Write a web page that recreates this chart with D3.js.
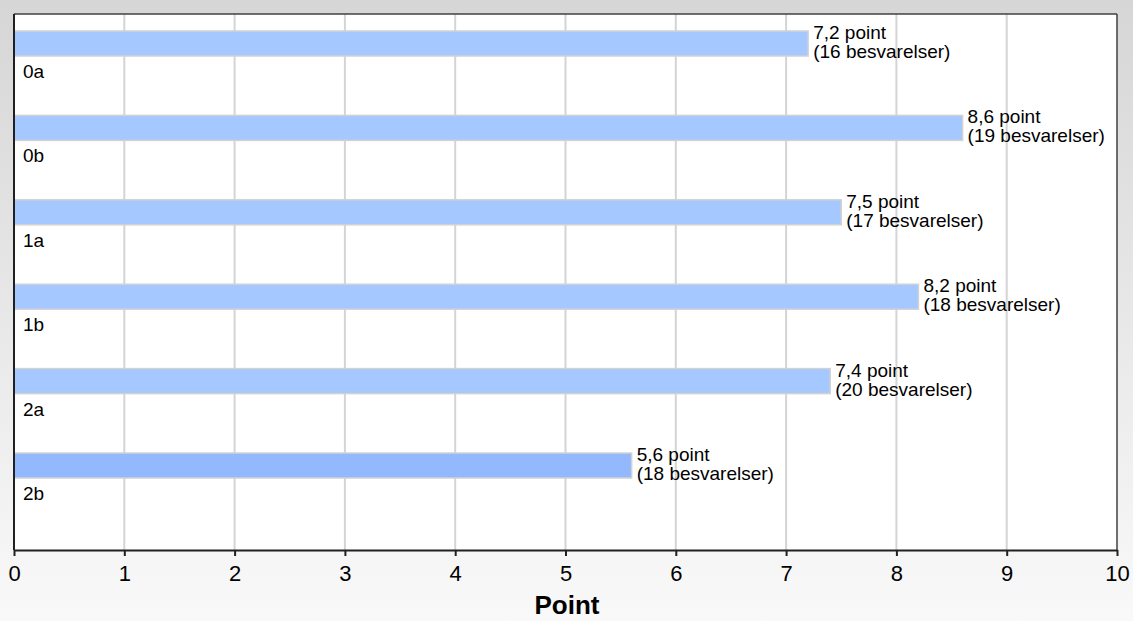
<!DOCTYPE html>
<html><head><meta charset="utf-8">
<script src="https://cdn.jsdelivr.net/npm/d3@7"></script>
<style>
html,body{margin:0;padding:0;}
body{width:1133px;height:621px;overflow:hidden;}
</style></head>
<body>
<svg id="chart" width="1133" height="621"></svg>
<script>
const categories = ["0a","0b","1a","1b","2a","2b"];
const values = [7.2, 8.6, 7.5, 8.2, 7.4, 5.6];
const counts = [16, 19, 17, 18, 20, 18];
const xTicks = [0,1,2,3,4,5,6,7,8,9,10];
const barColors = ["#a4c8ff","#a4c8ff","#a4c8ff","#a4c8ff","#a4c8ff","#94b8fd"];

const svg = d3.select("#chart");
const defs = svg.append("defs");
const grad = defs.append("linearGradient").attr("id","bg").attr("x1",0).attr("y1",0).attr("x2",0).attr("y2",1);
grad.append("stop").attr("offset","0%").attr("stop-color","#d6d6d6");
grad.append("stop").attr("offset","100%").attr("stop-color","#f9f9f9");
svg.append("rect").attr("width",1133).attr("height",621).attr("fill","url(#bg)");

const L = 14, R = 1117, T = 14, B = 550;
const x = d3.scaleLinear().domain([0,10]).range([L,R]);
const y = d3.scaleBand().domain(categories).range([31, 31 + 6*84.4]).padding(0);
const barH = 25;

svg.append("rect").attr("x",L).attr("y",T).attr("width",R-L).attr("height",B-T).attr("fill","#ffffff");

// gridlines
svg.append("g").selectAll("line").data(xTicks.filter(d=>d>0 && d<10)).join("line")
  .attr("x1",d=>x(d)).attr("x2",d=>x(d)).attr("y1",T).attr("y2",B)
  .attr("stroke","#d4d4d4").attr("stroke-width",2);

// bars
svg.append("g").selectAll("rect").data(categories).join("rect")
  .attr("x",L).attr("y",c=>y(c)).attr("width",(c,i)=>x(values[i])-L).attr("height",barH)
  .attr("fill",(c,i)=>barColors[i]).attr("stroke","#d2d2d2").attr("stroke-width",1.5);

const font = "'Liberation Sans', Arial, sans-serif";
// category labels
svg.append("g").selectAll("text").data(categories).join("text")
  .attr("x",L+9).attr("y",c=>y(c)+47).text(c=>c)
  .attr("font-family",font).attr("font-size",19).attr("fill","#000");

// value labels
const vl = svg.append("g").selectAll("text").data(categories).join("text")
  .attr("font-family",font).attr("font-size",19).attr("fill","#000");
vl.append("tspan").attr("x",(c,i)=>x(values[i])+5).attr("y",c=>y(c)+8)
  .text((c,i)=>String(values[i]).replace(".",",")+" point");
vl.append("tspan").attr("x",(c,i)=>x(values[i])+5).attr("y",c=>y(c)+27)
  .text((c,i)=>"("+counts[i]+" besvarelser)");

// frame
svg.append("line").attr("x1",L).attr("x2",R).attr("y1",T).attr("y2",T).attr("stroke","#404040").attr("stroke-width",1.5);
svg.append("line").attr("x1",R).attr("x2",R).attr("y1",T).attr("y2",B).attr("stroke","#404040").attr("stroke-width",1.5);
svg.append("line").attr("x1",L).attr("x2",L).attr("y1",T).attr("y2",B).attr("stroke","#202020").attr("stroke-width",2);

// x axis
const axis = d3.axisBottom(x).tickValues(xTicks).tickSize(6).tickSizeOuter(0).tickFormat(d3.format("d"));
const ag = svg.append("g").attr("transform",`translate(0,${B})`).call(axis);
ag.select(".domain").attr("stroke","#202020").attr("stroke-width",2);
ag.selectAll(".tick line").attr("stroke","#202020").attr("stroke-width",2);
ag.selectAll(".tick text").attr("font-family",font).attr("font-size",22).attr("fill","#000")
  .attr("y",0).attr("dy",0).attr("transform","translate(0,31)");

svg.append("text").attr("x",567).attr("y",614).attr("text-anchor","middle")
  .attr("font-family",font).attr("font-size",26).attr("font-weight","bold").text("Point");
</script>
</body></html>
